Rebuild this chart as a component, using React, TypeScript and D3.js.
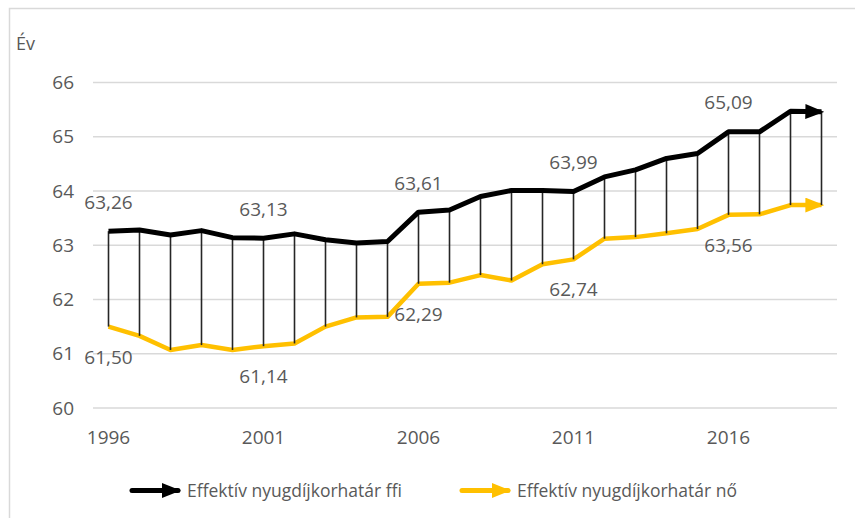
import React, { useEffect } from 'react';
import * as d3 from 'd3';

const years = d3.range(1996, 2020).map(String);
const male = [63.26, 63.28, 63.19, 63.27, 63.14, 63.13, 63.21, 63.10, 63.04, 63.07, 63.61, 63.65,
  63.90, 64.01, 64.01, 63.99, 64.26, 64.39, 64.60, 64.69, 65.09, 65.09, 65.47, 65.46];
const female = [61.50, 61.33, 61.07, 61.16, 61.07, 61.14, 61.19, 61.50, 61.67, 61.68, 62.29, 62.31,
  62.45, 62.35, 62.65, 62.74, 63.12, 63.15, 63.22, 63.30, 63.56, 63.57, 63.74, 63.74];
const yTicks = [60, 61, 62, 63, 64, 65, 66];
const xTickYears = ['1996', '2001', '2006', '2011', '2016'];
const labelYears = ['1996', '2001', '2006', '2011', '2016'];
const legendNames = ['Effektív nyugdíjkorhatár ffi', 'Effektív nyugdíjkorhatár nő'];
const colors = ['#000000', '#FFC000'];

const W = 855;
const H = 518;
const FONT = '"Open Sans", sans-serif';
const TXT = '#595959';
const NUM = 19;

const fmt = (v: number) => v.toFixed(2).replace('.', ',');

export default function App() {
  useEffect(() => {
    document.body.style.margin = '0';
  }, []);

  const x = d3.scaleBand<string>().domain(years).range([93, 837]);
  const cx = (yr: string) => (x(yr) as number) + x.bandwidth() / 2;
  const y = d3.scaleLinear().domain([60, 66]).range([408, 82.5]);

  const line = d3.line<number>()
    .x((_, i) => cx(years[i]))
    .y(d => y(d));

  return (
    <svg width={W} height={H} style={{ display: 'block', fontFamily: FONT }}>
      <defs>
        {colors.map((c, i) => (
          <marker key={c} id={'arr' + i} viewBox="0 0 10 10" refX="8.5" refY="5" markerWidth="19" markerHeight="15"
            markerUnits="userSpaceOnUse" orient="auto" preserveAspectRatio="none">
            <path d="M0,0 L10,5 L0,10 Z" fill={c} />
          </marker>
        ))}
      </defs>
      <rect x={9.5} y={8.5} width={W + 20} height={H + 20} fill="none" stroke="#d9d9d9" strokeWidth={1.5} />

      <text x={16} y={50} fontSize={18} fill={TXT}>Év</text>

      {yTicks.map(t => (
        <g key={t}>
          <line x1={93} x2={837} y1={y(t)} y2={y(t)} stroke="#d9d9d9" strokeWidth={1.5} />
          <text x={74} y={y(t)} dy="0.35em" textAnchor="end" fontSize={NUM} fill={TXT}>{t}</text>
        </g>
      ))}

      {xTickYears.map(t => (
        <text key={t} x={cx(t)} y={444} textAnchor="middle" fontSize={NUM} fill={TXT}>{t}</text>
      ))}

      <path d={line(female) || ''} fill="none" stroke={colors[1]} strokeWidth={4.5}
        strokeLinejoin="round" markerEnd="url(#arr1)" />

      {years.map((yr, i) => (
        <line key={yr} x1={cx(yr)} x2={cx(yr)} y1={y(male[i])} y2={y(female[i])}
          stroke="#262626" strokeWidth={1.6} />
      ))}

      <path d={line(male) || ''} fill="none" stroke={colors[0]} strokeWidth={5}
        strokeLinejoin="round" markerEnd="url(#arr0)" />

      {labelYears.map(yr => {
        const i = years.indexOf(yr);
        return (
          <g key={yr}>
            <text x={cx(yr)} y={y(male[i]) - 22.5} textAnchor="middle" fontSize={NUM} fill={TXT}>{fmt(male[i])}</text>
            <text x={cx(yr)} y={y(female[i]) + 37} textAnchor="middle" fontSize={NUM} fill={TXT}>{fmt(female[i])}</text>
          </g>
        );
      })}

      {legendNames.map((name, i) => {
        const lx = i === 0 ? 132 : 462;
        return (
          <g key={name}>
            <line x1={lx} x2={lx + 46} y1={490.5} y2={490.5} stroke={colors[i]} strokeWidth={5}
              strokeLinecap="round" markerEnd={`url(#arr${i})`} />
            <text x={lx + 55} y={490.5} dy="0.35em" fontSize={17.5} fill={TXT}>{name}</text>
          </g>
        );
      })}
    </svg>
  );
}
